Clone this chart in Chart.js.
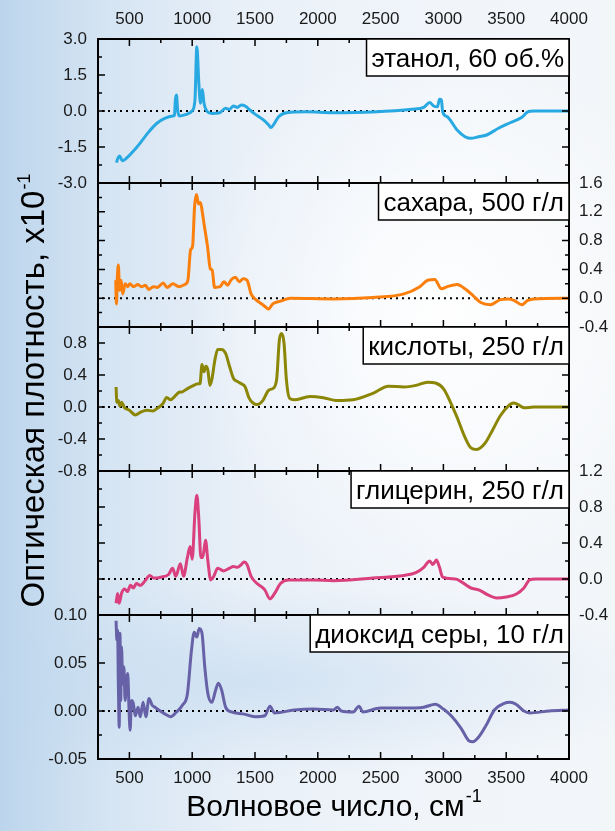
<!DOCTYPE html>
<html>
<head>
<meta charset="utf-8">
<script src="https://cdn.jsdelivr.net/npm/chart.js@4.4.0/dist/chart.umd.min.js"></script>
<style>
	html, body { margin: 0; padding: 0; }
	body {
		width: 615px;
		height: 831px;
		overflow: hidden;
		position: relative;
		background:
			radial-gradient(ellipse 55% 45% at 72% 38%, rgba(255,255,255,0.95), rgba(255,255,255,0) 75%),
			radial-gradient(ellipse 70% 12% at 40% 82%, rgba(190,215,238,0.55), rgba(190,215,238,0) 100%),
			linear-gradient(to right, #bcd5ec 0%, #d6e5f3 18%, #e9f0f8 40%, #f1f5fa 70%, #f3f6f9 100%);
	}
	canvas { position: absolute; left: 0; top: 0; }
</style>
</head>
<body>
<canvas id="panel0" width="615" height="831"></canvas>
<canvas id="panel1" width="615" height="831"></canvas>
<canvas id="panel2" width="615" height="831"></canvas>
<canvas id="panel3" width="615" height="831"></canvas>
<canvas id="panel4" width="615" height="831"></canvas>
<script>
// wavenumber axis, cm-1
const waveTicks = [500, 1000, 1500, 2000, 2500, 3000, 3500, 4000];

// ethanol, 60 vol.%
const ethanolWn = [397,406,422,444,469,562,656,719,781,844,859,866,875,884,900,953,1000,1022,1037,1053,1066,1081,1094,1116,1156,1219,1266,1297,1328,1359,1391,1422,1453,1500,1562,1609,1625,1647,1688,1750,1906,2125,2438,2750,2844,2891,2922,2953,2969,2984,2994,3031,3109,3172,3219,3281,3344,3438,3531,3625,3672,3719,4000];
const ethanolOd = [-2.15,-2.0,-1.88,-2.07,-2.0,-1.49,-0.86,-0.51,-0.31,-0.21,-0.17,0.46,0.67,0.04,-0.21,-0.14,0.01,0.46,2.68,1.15,0.32,0.9,0.32,0,-0.1,-0.07,0.11,0.07,0.21,0.15,0.25,0.21,0.07,-0.13,-0.35,-0.58,-0.69,-0.58,-0.24,-0.07,-0.03,-0.07,-0.04,0.07,0.15,0.35,0.21,0.18,0.49,0.46,-0.03,-0.24,-0.79,-1.07,-1.14,-1.07,-1.0,-0.72,-0.49,-0.26,-0.04,0,0];
const ethanolTicks = [-3, -1.5, 0, 1.5, 3];

// sugar, 500 g/l
const sugarWn = [391,397,403,412,422,434,447,466,487,503,534,566,597,628,653,691,722,769,800,847,894,941,966,987,1003,1019,1034,1050,1066,1081,1097,1122,1144,1159,1178,1222,1253,1281,1312,1344,1375,1406,1437,1469,1500,1562,1609,1641,1703,1781,2125,2438,2687,2812,2875,2931,2984,3031,3109,3172,3234,3297,3375,3453,3516,3562,3625,3672,3719,4000];
const sugarOd = [0.25,-0.08,0.25,0.46,0.11,0.25,0.06,0.2,0.16,0.2,0.16,0.19,0.16,0.18,0.12,0.16,0.15,0.21,0.15,0.2,0.16,0.19,0.25,0.67,0.72,1.28,1.44,1.31,1.33,1.19,1.0,0.72,0.41,0.39,0.15,0.16,0.23,0.18,0.26,0.29,0.23,0.27,0.25,0.06,-0.01,-0.09,-0.15,-0.08,-0.04,0,-0.01,0.01,0.06,0.16,0.25,0.26,0.13,0.16,0.19,0.13,0.04,-0.06,-0.09,-0.02,-0.01,-0.03,-0.09,-0.03,-0.01,0];
const sugarTicks = [-0.4, 0, 0.4, 0.8, 1.2, 1.6];

// acids, 250 g/l
const acidWn = [394,400,412,425,437,462,500,547,594,641,687,719,766,797,828,859,891,922,953,1000,1047,1062,1078,1094,1109,1125,1141,1156,1181,1203,1234,1266,1297,1328,1359,1391,1422,1453,1484,1516,1562,1609,1641,1672,1694,1712,1731,1750,1775,1812,1937,2031,2156,2281,2437,2562,2687,2781,2875,2937,3000,3062,3109,3172,3219,3266,3328,3391,3453,3516,3556,3594,3641,3719,4000];
const acidOd = [0.25,0.06,0.08,0.01,0.06,-0.01,-0.04,-0.1,-0.06,-0.04,-0.05,-0.02,0.04,0.12,0.09,0.13,0.18,0.19,0.22,0.26,0.29,0.29,0.53,0.44,0.51,0.46,0.27,0.34,0.59,0.72,0.72,0.67,0.51,0.36,0.32,0.29,0.25,0.11,0.05,0.03,0.08,0.21,0.23,0.34,0.84,0.92,0.8,0.34,0.11,0.09,0.13,0.12,0.08,0.09,0.17,0.26,0.25,0.27,0.31,0.3,0.23,0.04,-0.13,-0.38,-0.51,-0.53,-0.46,-0.29,-0.11,0.01,0.05,0.03,-0.01,0,0];
const acidTicks = [-0.8, -0.4, 0, 0.4, 0.8];

// glycerol, 250 g/l
const glycerolWn = [394,406,419,437,462,484,509,531,556,587,625,662,694,750,812,844,869,906,931,962,984,1000,1022,1037,1053,1069,1084,1106,1125,1147,1172,1203,1250,1297,1328,1359,1391,1412,1437,1469,1516,1578,1619,1656,1703,1766,1969,2125,2437,2687,2781,2844,2891,2916,2944,2969,2994,3094,3219,3281,3359,3422,3500,3578,3641,3687,3734,4000];
const glycerolOd = [-0.27,-0.16,-0.27,-0.16,-0.11,-0.14,-0.07,-0.1,-0.05,-0.07,-0.02,0.04,0.01,0.02,0.05,0.12,0.03,0.17,0.03,0.24,0.36,0.22,0.74,0.93,0.66,0.24,0.24,0.43,0.2,-0.01,0.03,0.12,0.09,0.12,0.14,0.13,0.16,0.19,0.16,0.03,-0.05,-0.12,-0.22,-0.16,-0.05,-0.01,-0.01,-0.02,0.01,0.04,0.07,0.13,0.2,0.16,0.21,0.13,0.02,0,-0.1,-0.12,-0.18,-0.21,-0.2,-0.17,-0.1,-0.01,0,0];
const glycerolTicks = [-0.4, 0, 0.4, 0.8, 1.2];

// sulphur dioxide, 10 g/l
const so2Wn = [394,400,406,412,419,425,431,437,447,456,466,475,487,497,506,516,531,547,569,587,609,631,656,681,703,734,781,828,875,922,962,994,1016,1037,1056,1078,1100,1125,1156,1187,1209,1234,1266,1312,1406,1500,1578,1619,1656,1812,1969,2125,2156,2187,2281,2328,2359,2500,2687,2844,2937,3000,3062,3141,3203,3234,3281,3344,3406,3484,3531,3578,3641,3687,3844,4000];
const so2Od = [0.094,0.074,0.084,0.028,-0.017,0.081,0.011,0.067,0.028,0.046,0.011,0.028,0.039,0.001,-0.02,0.011,0.008,-0.005,0.004,-0.006,0.009,-0.006,0.013,0.006,0.004,0.001,-0.003,-0.006,-0.001,0.006,0.018,0.063,0.082,0.077,0.086,0.081,0.046,0.018,0.009,0.022,0.029,0.022,0.004,-0.001,-0.003,-0.006,-0.005,0.005,-0.002,0.001,0.002,0.001,0.004,0,-0.001,0.005,-0.001,0.003,0.003,0.004,0.007,0.002,-0.005,-0.018,-0.031,-0.032,-0.027,-0.014,0.001,0.008,0.009,0.007,0,-0.002,0,0.001];
const so2Ticks = [-0.05, 0, 0.05, 0.1];

const panels = [
	{ label: "этанол, 60 об.%", color: "#29a9e1", wn: ethanolWn, od: ethanolOd, ticks: ethanolTicks, min: -3, max: 3, side: "left", digits: 1 },
	{ label: "сахара, 500 г/л", color: "#fb7f0c", wn: sugarWn, od: sugarOd, ticks: sugarTicks, min: -0.4, max: 1.6, side: "right", digits: 1 },
	{ label: "кислоты, 250 г/л", color: "#8b8606", wn: acidWn, od: acidOd, ticks: acidTicks, min: -0.8, max: 1.0, side: "left", digits: 1 },
	{ label: "глицерин, 250 г/л", color: "#d9407d", wn: glycerolWn, od: glycerolOd, ticks: glycerolTicks, min: -0.4, max: 1.2, side: "right", digits: 1 },
	{ label: "диоксид серы, 10 г/л", color: "#6762a8", wn: so2Wn, od: so2Od, ticks: so2Ticks, min: -0.05, max: 0.1, side: "left", digits: 2 },
];

const plotLeft = 98;
const plotRight = 569;
const plotTop = 39;
const panelHeight = 144;
const pageW = 615;
const pageH = 831;
const tickFont = "17px 'Liberation Sans', Arial, sans-serif";
const supFont = "18px 'Liberation Sans', Arial, sans-serif";

function drawWithSup(ctx, main, sup, cx, baseline, size) {
	let mainFont = size + "px 'Liberation Sans', Arial, sans-serif";
	ctx.font = mainFont;
	let w1 = ctx.measureText(main).width;
	ctx.font = supFont;
	let w2 = ctx.measureText(sup).width;
	let x0 = cx - (w1 + w2) / 2;
	ctx.textAlign = "left";
	ctx.textBaseline = "alphabetic";
	ctx.font = mainFont;
	ctx.fillText(main, x0, baseline);
	ctx.font = supFont;
	ctx.fillText(sup, x0 + w1 + 1, baseline - 14);
}

function decor(p, index) {
	return {
		id: "decor" + index,
		beforeDatasetsDraw(chart) {
			let ctx = chart.ctx;
			let a = chart.chartArea;
			let y0 = chart.scales.y.getPixelForValue(0);
			ctx.save();
			ctx.strokeStyle = "#000";
			ctx.lineWidth = 2;
			ctx.setLineDash([2, 4]);
			ctx.beginPath();
			ctx.moveTo(a.left + 4, y0);
			ctx.lineTo(a.right, y0);
			ctx.stroke();
			ctx.restore();
		},
		afterDatasetsDraw(chart) {
			let ctx = chart.ctx;
			let a = chart.chartArea;
			let xs = chart.scales.x;
			let ys = chart.scales.y;
			ctx.save();
			ctx.strokeStyle = "#000";
			ctx.fillStyle = "#000";
			ctx.lineWidth = 2;
			ctx.strokeRect(a.left, a.top, a.right - a.left, a.bottom - a.top);

			// x ticks, inward on top and bottom
			ctx.lineWidth = 1.5;
			ctx.beginPath();
			waveTicks.forEach(function (t) {
				let x = xs.getPixelForValue(t);
				ctx.moveTo(x, a.top); ctx.lineTo(x, a.top + 7);
				ctx.moveTo(x, a.bottom); ctx.lineTo(x, a.bottom - 7);
				let xm = xs.getPixelForValue(t - 250);
				ctx.moveTo(xm, a.top); ctx.lineTo(xm, a.top + 4);
				ctx.moveTo(xm, a.bottom); ctx.lineTo(xm, a.bottom - 4);
			});
			// y ticks, inward on left and right
			let step = p.ticks[1] - p.ticks[0];
			p.ticks.forEach(function (t) {
				let y = ys.getPixelForValue(t);
				ctx.moveTo(a.left, y); ctx.lineTo(a.left + 7, y);
				ctx.moveTo(a.right, y); ctx.lineTo(a.right - 7, y);
				let m = t + step / 2;
				if (m <= p.max + 1e-9) {
					let ym = ys.getPixelForValue(m);
					ctx.moveTo(a.left, ym); ctx.lineTo(a.left + 4, ym);
					ctx.moveTo(a.right, ym); ctx.lineTo(a.right - 4, ym);
				}
			});
			ctx.stroke();

			// y tick labels
			ctx.font = tickFont;
			ctx.fillStyle = "#1a1a1a";
			ctx.textBaseline = "middle";
			p.ticks.forEach(function (t) {
				let y = ys.getPixelForValue(t);
				let txt = t.toFixed(p.digits);
				if (p.side === "left") {
					ctx.textAlign = "right";
					ctx.fillText(txt, a.left - 11, y);
				} else {
					ctx.textAlign = "left";
					ctx.fillText(txt, a.right + 10, y);
				}
			});

			// wavenumber labels on the top and bottom panels
			if (index === 0 || index === panels.length - 1) {
				ctx.textAlign = "center";
				waveTicks.forEach(function (t) {
					let x = xs.getPixelForValue(t);
					ctx.fillText(String(t), x, index === 0 ? 19 : 778);
				});
			}

			// sample label box
			ctx.font = "26px 'Liberation Sans', Arial, sans-serif";
			let tw = ctx.measureText(p.label).width;
			let bw = tw + 10;
			let bh = 37;
			ctx.fillStyle = "#fff";
			ctx.fillRect(a.right - bw, a.top, bw, bh);
			ctx.lineWidth = 1.5;
			ctx.strokeRect(a.right - bw, a.top, bw, bh);
			ctx.fillStyle = "#000";
			ctx.textAlign = "right";
			ctx.textBaseline = "alphabetic";
			ctx.fillText(p.label, a.right - 5, a.top + 28);

			// axis titles
			if (index === panels.length - 1) {
				ctx.fillStyle = "#000";
				drawWithSup(ctx, "Волновое число, см", "-1", (plotLeft + plotRight) / 2, 816, 30);
				ctx.save();
				ctx.translate(44, (plotTop + plotTop + panelHeight * panels.length) / 2 - 8);
				ctx.rotate(-Math.PI / 2);
				drawWithSup(ctx, "Оптическая плотность, x10", "-1", 0, 0, 33);
				ctx.restore();
			}
			ctx.restore();
		},
	};
}

panels.forEach(function (p, i) {
	let top = plotTop + panelHeight * i;
	new Chart(document.getElementById("panel" + i).getContext("2d"), {
		type: "line",
		data: {
			datasets: [
				{
					label: p.label,
					data: p.wn.map(function (w, k) { return { x: w, y: p.od[k] }; }),
					borderColor: p.color,
					borderWidth: 3,
					pointRadius: 0,
					cubicInterpolationMode: "monotone",
					fill: false,
				},
			],
		},
		options: {
			responsive: false,
			animation: false,
			events: [],
			layout: {
				padding: {
					left: plotLeft,
					right: pageW - plotRight,
					top: top,
					bottom: pageH - (top + panelHeight),
				},
			},
			scales: {
				x: { type: "linear", min: 250, max: 4000, display: false },
				y: { type: "linear", min: p.min, max: p.max, display: false },
			},
			plugins: {
				legend: { display: false },
				tooltip: { enabled: false },
			},
		},
		plugins: [decor(p, i)],
	});
});
</script>
</body>
</html>
